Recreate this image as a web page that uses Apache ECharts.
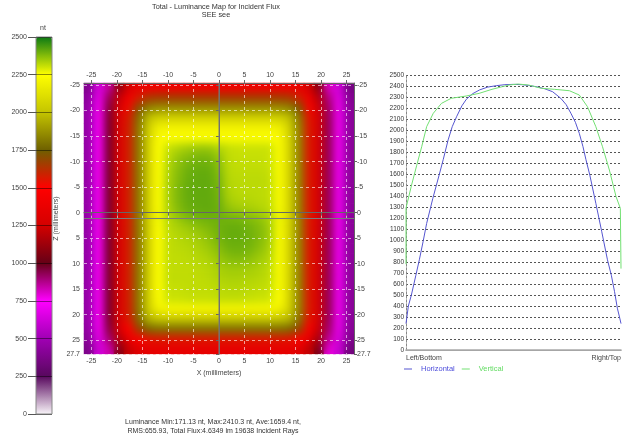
<!DOCTYPE html>
<html><head><meta charset="utf-8">
<script src="https://cdn.jsdelivr.net/npm/echarts@6/dist/echarts.min.js"></script>
<style>html,body{margin:0;padding:0;background:#fff}#c{width:624px;height:443px}</style>
</head><body><div id="c"></div>
<script>
// ---- data ----
const xTicks = [-25,-20,-15,-10,-5,0,5,10,15,20,25];
const zTicks = [-25,-20,-15,-10,-5,0,5,10,15,20,25,27.7];
const xRange = [-26.45, 26.45];
const zRange = [-25.4, 27.7];
const crosshairX = [0, 0];
const crosshairZ = [1.15, 1.15];
const colorbarTicks = [0,250,500,750,1000,1250,1500,1750,2000,2250,2500];
const colorbarColors = ['#f8f4f8','#58085e','#a000b4','#ff00ff','#660016','#d40000','#ff0000','#6e6000','#c4c400','#ffff00','#0c7a14'];
const titleText = 'Total - Luminance Map for Incident Flux';
const subTitleText = 'SEE see';
const statsLines = ['Luminance Min:171.13 nt, Max:2410.3 nt, Ave:1659.4 nt,', 'RMS:655.93, Total Flux:4.6349 lm 19638 Incident Rays'];
const profileNames = ['Horizontal', 'Vertical'];
const profileEnds = ['Left/Bottom', 'Right/Top'];

// luminance map, rows top (Z=-25.4) to bottom (Z=27.7), columns left to right
const luminanceRows = [
[391,646,854,1103,1275,1369,1412,1420,1420,1420,1420,1420,1420,1420,1420,1420,1420,1420,1420,1420,1414,1377,1264,1075,812,629,354],
[432,701,927,1213,1433,1573,1646,1660,1660,1660,1660,1660,1660,1660,1660,1660,1660,1660,1660,1660,1649,1587,1419,1179,880,682,393],
[451,727,962,1270,1526,1718,1841,1869,1870,1870,1870,1870,1870,1870,1870,1870,1870,1870,1870,1869,1847,1738,1509,1232,914,708,411],
[458,738,976,1294,1568,1796,1990,2058,2060,2060,2060,2060,2060,2060,2060,2060,2060,2060,2060,2058,2002,1823,1549,1254,926,718,418],
[460,740,980,1299,1579,1817,2050,2191,2200,2200,2200,2200,2200,2200,2200,2200,2200,2200,2200,2192,2069,1847,1559,1260,930,720,420],
[460,740,980,1300,1580,1820,2058,2232,2255,2255,2255,2255,2255,2255,2255,2255,2255,2255,2255,2235,2078,1850,1560,1260,930,720,420],
[460,740,980,1300,1580,1820,2060,2250,2310,2330,2345,2355,2355,2330,2310,2305,2305,2305,2305,2255,2080,1850,1560,1260,930,720,420],
[460,740,980,1300,1580,1820,2060,2250,2325,2360,2380,2390,2390,2360,2315,2310,2310,2310,2305,2255,2080,1850,1560,1260,930,720,420],
[460,740,980,1300,1580,1820,2060,2250,2335,2375,2398,2405,2405,2375,2320,2315,2315,2315,2310,2255,2080,1850,1560,1260,930,720,420],
[460,740,980,1300,1580,1820,2060,2250,2340,2380,2405,2410,2410,2385,2325,2320,2320,2320,2315,2255,2080,1850,1560,1260,930,720,420],
[460,740,980,1300,1580,1820,2060,2250,2345,2385,2408,2410,2410,2390,2330,2320,2320,2320,2315,2255,2080,1850,1560,1260,930,720,420],
[460,740,980,1300,1580,1820,2060,2250,2345,2385,2408,2410,2410,2395,2340,2325,2325,2320,2315,2255,2080,1850,1560,1260,930,720,420],
[460,740,980,1300,1580,1820,2060,2250,2340,2380,2402,2408,2410,2400,2360,2345,2340,2330,2320,2255,2080,1850,1560,1260,930,720,420],
[460,740,980,1300,1580,1820,2060,2260,2330,2360,2385,2395,2400,2400,2395,2390,2380,2365,2340,2265,2080,1850,1560,1260,930,720,420],
[460,740,980,1300,1580,1820,2060,2250,2320,2335,2350,2365,2380,2395,2405,2405,2395,2380,2350,2255,2080,1850,1560,1260,930,720,420],
[460,740,980,1300,1580,1820,2060,2250,2315,2325,2335,2345,2365,2390,2405,2405,2398,2380,2350,2255,2080,1850,1560,1260,930,720,420],
[460,740,980,1300,1580,1820,2060,2250,2315,2320,2325,2335,2350,2375,2395,2398,2390,2370,2340,2255,2080,1850,1560,1260,930,720,420],
[460,740,980,1300,1580,1820,2060,2250,2315,2315,2320,2325,2335,2355,2375,2380,2370,2350,2330,2255,2080,1850,1560,1260,930,720,420],
[460,740,980,1300,1580,1820,2060,2250,2315,2315,2315,2320,2325,2340,2350,2350,2345,2335,2320,2255,2080,1850,1560,1260,930,720,420],
[460,740,980,1300,1580,1820,2060,2250,2315,2315,2315,2315,2320,2330,2335,2335,2330,2325,2315,2255,2080,1850,1560,1260,930,720,420],
[460,740,980,1300,1580,1820,2060,2250,2310,2310,2315,2315,2315,2320,2325,2325,2320,2315,2310,2255,2080,1850,1560,1260,930,720,420],
[460,740,980,1300,1580,1820,2060,2245,2305,2305,2310,2310,2310,2315,2315,2315,2310,2305,2300,2250,2080,1850,1560,1260,930,720,420],
[460,740,980,1300,1579,1818,2052,2199,2210,2210,2210,2210,2210,2210,2210,2210,2210,2210,2210,2201,2071,1848,1559,1260,930,720,420],
[457,736,975,1291,1563,1784,1963,2018,2020,2020,2020,2020,2020,2020,2020,2020,2020,2020,2020,2019,1973,1810,1544,1251,925,716,417],
[446,720,953,1255,1500,1675,1778,1800,1800,1800,1800,1800,1800,1800,1800,1800,1800,1800,1800,1800,1782,1692,1484,1218,905,701,406],
[417,682,902,1173,1372,1492,1549,1560,1560,1560,1560,1560,1560,1560,1560,1560,1560,1560,1560,1560,1551,1502,1360,1141,856,663,379],
[377,628,830,1069,1229,1315,1353,1360,1360,1360,1360,1360,1360,1360,1360,1360,1360,1360,1360,1360,1354,1322,1220,1042,789,610,340]
];

// profiles: [position % from Left/Bottom to Right/Top, luminance]
const horizontalProfile = [[0,240],[1.1,400],[2.5,500],[4.6,680],[6.2,820],[8,990],[9.6,1150],[12.5,1380],[15.4,1590],[17.3,1730],[19.6,1910],[21.5,2030],[23.5,2120],[26,2220],[28.1,2280],[31,2330],[34.3,2365],[38,2390],[42,2403],[46,2412],[50,2415],[54,2412],[57,2405],[60.5,2394],[64.5,2375],[68.2,2348],[72,2288],[74.5,2230],[76.7,2152],[78.8,2070],[80.6,1970],[82.3,1850],[83.7,1730],[85.5,1590],[88.3,1333],[91,1080],[93.7,820],[95.5,680],[97,530],[98.3,380],[99.3,300],[100,240]];
const verticalProfile = [[0,780],[0,1290],[2.6,1500],[5,1680],[7.3,1848],[9.6,2030],[12.7,2152],[16.5,2242],[21,2288],[28,2309],[34,2333],[40,2370],[45,2395],[48,2409],[52,2418],[57,2409],[63,2379],[69,2370],[76,2357],[80.6,2318],[84.4,2212],[88.3,2030],[91.4,1848],[94.6,1636],[97.7,1394],[99.7,1288],[100,1288],[100,740]];

// ---- build chart ----
const FONT = '"Liberation Sans", Arial, sans-serif';
const lab = {fontFamily: FONT, fontSize: 7, color: '#444'};
const plain = v => String(v);
const colIdx = luminanceRows[0].map((_, i) => i);
const rowIdx = luminanceRows.map((_, i) => i);
const heatData = [];
luminanceRows.forEach((row, r) => row.forEach((v, c) => heatData.push([c, r, v])));

const MAP = {left: 84, top: 83, width: 270, height: 271};
const W = 624, H = 443;

const gridLine = {show: true, lineStyle: {color: 'rgba(255,255,255,0.6)', type: [3, 3], width: 1}};
const mapAxisLine = {show: true, lineStyle: {color: '#666', width: 1}};
const mapTick = (vals) => ({show: true, customValues: vals, length: 3, lineStyle: {color: '#666'}});
const crossStyle = {silent: true, showSymbol: false, zlevel: 2, xAxisIndex: 1, yAxisIndex: 1,
  lineStyle: {color: '#7a7a7a', width: 1}, color: '#7a7a7a', emphasis: {disabled: true}};

const chart = echarts.init(document.getElementById('c'), null, {renderer: 'canvas'});
chart.setOption({
  animation: false,
  textStyle: {fontFamily: FONT},
  title: {
    text: titleText, subtext: subTitleText, left: 216, top: 3, textAlign: 'center',
    itemGap: 1, padding: 0,
    textStyle: {fontFamily: FONT, fontSize: 7.3, fontWeight: 'normal', color: '#333'},
    subtextStyle: {fontFamily: FONT, fontSize: 7.3, color: '#333'}
  },
  grid: [
    MAP,
    {left: 36, top: 37, width: 16, height: 377, show: true, borderColor: '#888', borderWidth: 1, backgroundColor: 'transparent', z: 10},
    {left: 406, top: 75, width: 216, height: 275}
  ],
  xAxis: [
    {type: 'category', gridIndex: 0, data: colIdx, show: false},
    {type: 'value', gridIndex: 0, position: 'bottom', min: xRange[0], max: xRange[1], zlevel: 2,
     axisLine: mapAxisLine, axisTick: mapTick(xTicks),
     axisLabel: Object.assign({customValues: xTicks, margin: 4}, lab),
     splitLine: gridLine,
     name: 'X (millimeters)', nameLocation: 'middle', nameGap: 13, nameTextStyle: lab},
    {type: 'value', gridIndex: 0, position: 'top', min: xRange[0], max: xRange[1], zlevel: 2,
     axisLine: mapAxisLine, axisTick: mapTick(xTicks),
     axisLabel: Object.assign({customValues: xTicks, margin: 4}, lab),
     splitLine: {show: false}},
    {type: 'value', gridIndex: 1, show: false, min: 0, max: 1},
    {type: 'value', gridIndex: 2, min: 0, max: 100,
     axisLine: {show: true, lineStyle: {color: '#999'}}, axisTick: {show: false},
     axisLabel: Object.assign({customValues: [0, 100], margin: 5, alignMinLabel: 'left', alignMaxLabel: 'right',
       formatter: v => (v === 0 ? profileEnds[0] : profileEnds[1])}, lab),
     splitLine: {show: false}},
    {type: 'value', gridIndex: 2, position: 'top', min: 0, max: 100,
     axisLine: {show: true, lineStyle: {color: '#aaa', width: 1.5}}, axisTick: {show: false},
     axisLabel: {show: false}, splitLine: {show: false}}
  ],
  yAxis: [
    {type: 'category', gridIndex: 0, data: rowIdx, inverse: true, show: false},
    {type: 'value', gridIndex: 0, position: 'left', inverse: true, min: zRange[0], max: zRange[1], zlevel: 2,
     axisLine: mapAxisLine, axisTick: mapTick(zTicks),
     axisLabel: Object.assign({customValues: zTicks, margin: 4}, lab),
     splitLine: gridLine,
     name: 'Z (millimeters)', nameLocation: 'middle', nameGap: 24, nameTextStyle: lab},
    {type: 'value', gridIndex: 0, position: 'right', inverse: true, min: zRange[0], max: zRange[1], zlevel: 2,
     axisLine: mapAxisLine, axisTick: mapTick(zTicks),
     axisLabel: Object.assign({customValues: zTicks, margin: 3}, lab),
     splitLine: {show: false}},
    {type: 'value', gridIndex: 1, min: colorbarTicks[0], max: colorbarTicks[colorbarTicks.length - 1], interval: 250, z: 10,
     axisLine: {show: false}, axisTick: {show: true, length: 8, lineStyle: {color: '#555'}},
     axisLabel: Object.assign({margin: 9, formatter: plain}, lab),
     splitLine: {show: true, lineStyle: {color: 'rgba(0,0,0,0.45)', width: 1}}},
    {type: 'value', gridIndex: 2, min: 0, max: 2500, interval: 100,
     axisLine: {show: true, lineStyle: {color: '#888', type: [2, 2]}}, axisTick: {show: false},
     axisLabel: Object.assign({margin: 2, formatter: plain}, lab, {fontSize: 6.5, color: '#333'}),
     splitLine: {show: true, lineStyle: {color: '#555', type: [2, 2], width: 1}}},
    {type: 'value', gridIndex: 2, position: 'right', min: 0, max: 2500,
     axisLine: {show: true, lineStyle: {color: '#888', type: [2, 2]}}, axisTick: {show: false},
     axisLabel: {show: false}, splitLine: {show: false}}
  ],
  visualMap: {
    type: 'continuous', seriesIndex: [0, 1], min: colorbarTicks[0], max: colorbarTicks[colorbarTicks.length - 1],
    left: 36, top: 37, itemWidth: 16, itemHeight: 377, padding: 0,
    calculable: false, hoverLink: false, text: null,
    inRange: {color: colorbarColors}
  },
  legend: {
    data: [{name: profileNames[0], textStyle: {color: '#4d4ddb'}}, {name: profileNames[1], textStyle: {color: '#62dc62'}}],
    left: 404, top: 365, padding: 0, itemGap: 7, itemWidth: 8, itemHeight: 1, icon: 'rect',
    textStyle: {fontFamily: FONT, fontSize: 7.5, padding: [0, 0, 0, 4]}
  },
  graphic: [
    {type: 'text', left: 40, top: 25, style: {text: 'nt', font: '7px ' + FONT, fill: '#444'}},
    {type: 'text', x: 213, y: 419, style: {text: statsLines[0], font: '7px ' + FONT, fill: '#333', textAlign: 'center'}},
    {type: 'text', x: 213, y: 428, style: {text: statsLines[1], font: '7px ' + FONT, fill: '#333', textAlign: 'center'}}
  ],
  series: [
    // sharp cells (base layer)
    {type: 'heatmap', name: 'Luminance', xAxisIndex: 0, yAxisIndex: 0, data: heatData,
     emphasis: {disabled: true}, progressive: 0, zlevel: 0},
    // same cells on their own layer, softened by the page so the map reads as a continuous field
    {type: 'heatmap', name: 'Luminance (smooth)', xAxisIndex: 0, yAxisIndex: 0, data: heatData,
     emphasis: {disabled: true}, progressive: 0, zlevel: 1},
    // centre crosshair (vertical at X=0, horizontal at the middle of the Z range)
    Object.assign({type: 'line', name: 'crossV', data: [[crosshairX[0], zRange[0]], [crosshairX[1], zRange[1]]]}, crossStyle),
    Object.assign({type: 'line', name: 'crossH', data: [[xRange[0], crosshairZ[0]], [xRange[1], crosshairZ[1]]]}, crossStyle),
    {type: 'line', name: profileNames[0], xAxisIndex: 4, yAxisIndex: 4, data: horizontalProfile,
     showSymbol: false, color: '#5555d0', lineStyle: {width: 1}},
    {type: 'line', name: profileNames[1], xAxisIndex: 4, yAxisIndex: 4, data: verticalProfile,
     showSymbol: false, color: '#72e072', lineStyle: {width: 1}}
  ]
});

function softenLayer() {
  const painter = chart.getZr().painter;
  if (!painter || !painter.getLayer) return;
  const layer = painter.getLayer(1);
  if (!layer || !layer.dom) return;
  layer.dom.style.filter = 'blur(4px)';
  layer.dom.style.clipPath = 'inset(' + MAP.top + 'px ' + (W - MAP.left - MAP.width) + 'px ' +
    (H - MAP.top - MAP.height) + 'px ' + MAP.left + 'px)';
}
softenLayer();
chart.on('finished', softenLayer);
</script></body></html>
